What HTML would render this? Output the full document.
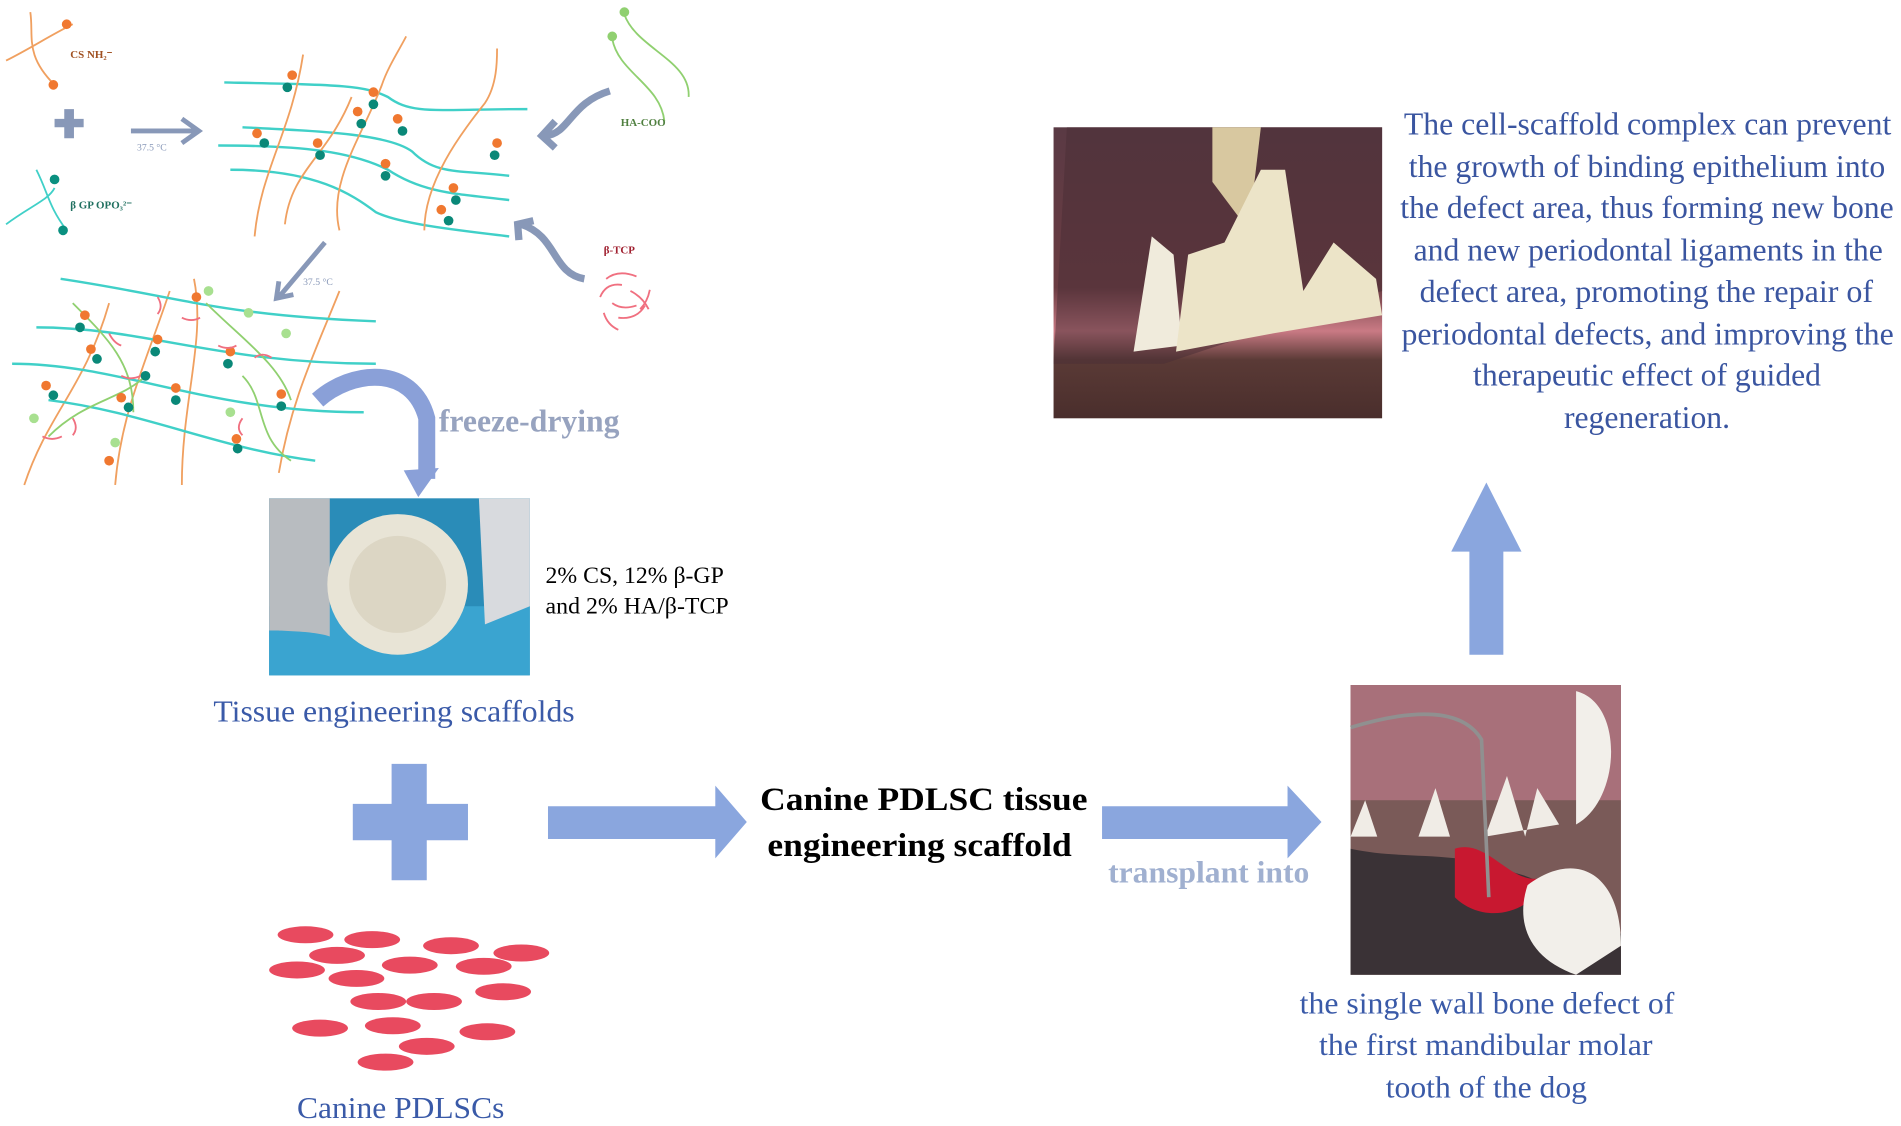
<!DOCTYPE html>
<html><head><meta charset="utf-8"><style>
html,body{margin:0;padding:0;background:#fff;width:1901px;height:1126px;overflow:hidden}
svg{display:block}
text{font-family:"Liberation Serif",serif}
</style></head><body>
<svg width="1901" height="1126" viewBox="0 0 1568 928.7" preserveAspectRatio="none">
<defs>
<linearGradient id="gum" x1="0" y1="0" x2="0" y2="1">
<stop offset="0" stop-color="#5a3a44"/><stop offset="0.55" stop-color="#6a3c42"/><stop offset="0.7" stop-color="#c97a84"/><stop offset="0.8" stop-color="#5a3a36"/><stop offset="1" stop-color="#4a2e2c"/></linearGradient>
</defs>
<!-- top-left schematic -->
<g fill="none" stroke-width="1.5">
<path d="M5,50 C25,40 40,30 60,20 M25,10 C28,30 20,45 45,70" stroke="#f0a060"/>
<path d="M5,185 C25,170 40,165 45,155 M30,140 C40,160 40,170 55,190" stroke="#40d0c8"/>
<path d="M515,12 C525,40 570,50 568,80 M505,32 C510,60 545,70 548,100" stroke="#90d070"/>
<path d="M185,68 C280,70 300,70 320,80 C340,95 360,90 435,90" stroke="#40d0c8" stroke-width="2"/>
<path d="M200,105 C260,108 320,110 340,125 C360,145 380,140 420,145" stroke="#40d0c8" stroke-width="2"/>
<path d="M180,120 C250,120 290,125 320,140 C350,160 380,160 420,165" stroke="#40d0c8" stroke-width="2"/>
<path d="M190,140 C260,140 290,160 310,175 C330,185 380,190 420,195" stroke="#40d0c8" stroke-width="2"/>
<path d="M210,195 C215,140 240,110 250,45" stroke="#f0a060"/>
<path d="M235,185 C240,140 270,130 290,80" stroke="#f0a060"/>
<path d="M280,190 C270,150 300,110 315,70 C320,55 330,40 335,30" stroke="#f0a060"/>
<path d="M350,190 C350,150 380,110 400,85 C410,70 410,50 410,40" stroke="#f0a060"/>
<path d="M20,400 C40,340 70,320 90,250" stroke="#f0a060"/>
<path d="M95,400 C100,340 120,300 140,240" stroke="#f0a060"/>
<path d="M150,400 C150,330 170,280 160,230" stroke="#f0a060"/>
<path d="M230,390 C240,330 260,290 280,240" stroke="#f0a060"/>
<path d="M50,230 C150,245 180,260 310,265" stroke="#40d0c8" stroke-width="2"/>
<path d="M30,270 C120,270 180,300 310,300" stroke="#40d0c8" stroke-width="2"/>
<path d="M10,300 C100,300 170,340 300,340" stroke="#40d0c8" stroke-width="2"/>
<path d="M40,330 C120,340 180,370 260,380" stroke="#40d0c8" stroke-width="2"/>
<path d="M60,250 C90,280 110,300 110,340 M170,250 C200,280 230,300 240,330 M40,360 C70,330 100,330 120,310 M200,310 C220,330 210,360 240,380" stroke="#90d070"/>
</g>
<g>
<circle cx="44" cy="70" r="4" fill="#f07830"/><circle cx="55" cy="20" r="4" fill="#f07830"/>
<circle cx="45" cy="148" r="4" fill="#0a9080"/><circle cx="52" cy="190" r="4" fill="#0a9080"/>
<circle cx="515" cy="10" r="4" fill="#90d070"/><circle cx="505" cy="30" r="4" fill="#90d070"/>
<g fill="#f07830"><circle cx="241" cy="62" r="4"/><circle cx="308" cy="76" r="4"/><circle cx="295" cy="92" r="4"/><circle cx="212" cy="110" r="4"/><circle cx="262" cy="118" r="4"/><circle cx="318" cy="135" r="4"/><circle cx="374" cy="155" r="4"/><circle cx="410" cy="118" r="4"/><circle cx="364" cy="173" r="4"/><circle cx="328" cy="98" r="4"/>
<circle cx="70" cy="260" r="4"/><circle cx="75" cy="288" r="4"/><circle cx="130" cy="280" r="4"/><circle cx="38" cy="318" r="4"/><circle cx="100" cy="328" r="4"/><circle cx="145" cy="320" r="4"/><circle cx="190" cy="290" r="4"/><circle cx="232" cy="325" r="4"/><circle cx="195" cy="362" r="4"/><circle cx="90" cy="380" r="4"/><circle cx="162" cy="245" r="4"/></g>
<g fill="#0a8878"><circle cx="237" cy="72" r="4"/><circle cx="308" cy="86" r="4"/><circle cx="298" cy="102" r="4"/><circle cx="218" cy="118" r="4"/><circle cx="264" cy="128" r="4"/><circle cx="318" cy="145" r="4"/><circle cx="376" cy="165" r="4"/><circle cx="408" cy="128" r="4"/><circle cx="370" cy="182" r="4"/><circle cx="332" cy="108" r="4"/>
<circle cx="66" cy="270" r="4"/><circle cx="80" cy="296" r="4"/><circle cx="128" cy="290" r="4"/><circle cx="44" cy="326" r="4"/><circle cx="106" cy="336" r="4"/><circle cx="145" cy="330" r="4"/><circle cx="188" cy="300" r="4"/><circle cx="232" cy="335" r="4"/><circle cx="196" cy="370" r="4"/><circle cx="120" cy="310" r="4"/></g>
<g fill="#a8e090"><circle cx="172" cy="240" r="4"/><circle cx="236" cy="275" r="4"/><circle cx="205" cy="258" r="4"/><circle cx="28" cy="345" r="4"/><circle cx="190" cy="340" r="4"/><circle cx="95" cy="365" r="4"/></g>
<g fill="none" stroke="#f07080" stroke-width="1.5"><path d="M130,245 q5,8 0,14 M150,262 q8,4 15,0 M90,275 q4,8 10,10 M210,295 q6,-5 14,0 M100,310 q8,4 16,0 M60,345 q5,8 0,14 M200,345 q-6,8 0,14 M35,360 q8,4 16,0 M180,285 q8,4 15,0"/></g>
</g>
<path d="M45,98 h24 v7 h-24z M53,90 h8 v24 h-8z" fill="#8898b8"/>
<path d="M108,108 H162 M150,98 L164,108 L150,118" stroke="#8898b8" stroke-width="4" fill="none"/>
<path d="M268,200 L230,245 M230,232 L228,246 L242,243" stroke="#8898b8" stroke-width="4" fill="none"/>
<path d="M503,75 C470,85 470,110 450,112 M458,100 L447,112 L458,122" stroke="#8898b8" stroke-width="6" fill="none"/>
<path d="M482,230 C455,225 460,195 430,185 M428,198 L427,185 L440,182" stroke="#8898b8" stroke-width="6" fill="none"/>
<g fill="none" stroke="#f07080" stroke-width="1.5"><path d="M500,230 q10,-8 25,-2 M495,245 q5,-12 18,-10 M510,262 q15,2 22,-10 M520,240 q10,5 15,15 M505,250 q8,6 20,2 M498,258 q3,10 12,14 M528,255 q6,-6 8,-16"/></g>
<g font-size="9" font-weight="bold">
<text x="58" y="48" fill="#a05020">CS NH₂⁻</text>
<text x="58" y="172" fill="#207060">β GP OPO₃²⁻</text>
<text x="512" y="104" fill="#508040">HA-COO</text>
<text x="498" y="209" fill="#a02030">β-TCP</text>
<text x="113" y="124" fill="#8898b8" font-weight="normal" font-size="8">37.5 °C</text>
<text x="250" y="235" fill="#8898b8" font-weight="normal" font-size="8">37.5 °C</text>
</g>
<!-- freeze-drying arrow -->
<path d="M262,330 C290,305 340,300 352,345 L352,395" stroke="#8aa0d8" stroke-width="14" fill="none"/>
<path d="M333,388 L345,410 L362,386z" fill="#8aa0d8"/>
<text x="362" y="356" font-size="26" font-weight="bold" fill="#97a3bf" textLength="149" lengthAdjust="spacingAndGlyphs">freeze-drying</text>
<!-- scaffold photo -->
<rect x="222" y="411" width="215" height="146" fill="#2a8cb8"/>
<rect x="222" y="500" width="215" height="57" fill="#3aa4d0"/>
<path d="M222,411 H272 V525 C260,520 222,520 222,520z" fill="#b8bcc0"/>
<path d="M395,411 H437 V500 L400,515z" fill="#d8dade"/>
<circle cx="328" cy="482" r="58" fill="#e8e4d6"/>
<circle cx="328" cy="482" r="40" fill="#dcd6c4"/>
<text x="450" y="481" font-size="19" textLength="147" lengthAdjust="spacingAndGlyphs">2% CS, 12% β-GP</text>
<text x="450" y="506" font-size="19" textLength="151" lengthAdjust="spacingAndGlyphs">and 2% HA/β-TCP</text>
<text x="176" y="595" font-size="25" fill="#3a5aa8" textLength="298" lengthAdjust="spacingAndGlyphs">Tissue engineering scaffolds</text>
<!-- plus -->
<path d="M323,630 h29 v33 h34 v30 h-34 v33 h-29 v-33 h-32 v-30 h32z" fill="#8aa6de"/>
<g fill="#e84a5f">
<ellipse cx="252" cy="771" rx="23" ry="7"/><ellipse cx="307" cy="775" rx="23" ry="7"/><ellipse cx="372" cy="780" rx="23" ry="7"/><ellipse cx="430" cy="786" rx="23" ry="7"/>
<ellipse cx="278" cy="788" rx="23" ry="7"/><ellipse cx="338" cy="796" rx="23" ry="7"/><ellipse cx="399" cy="797" rx="23" ry="7"/><ellipse cx="245" cy="800" rx="23" ry="7"/>
<ellipse cx="294" cy="807" rx="23" ry="7"/><ellipse cx="312" cy="826" rx="23" ry="7"/><ellipse cx="358" cy="826" rx="23" ry="7"/><ellipse cx="415" cy="818" rx="23" ry="7"/>
<ellipse cx="264" cy="848" rx="23" ry="7"/><ellipse cx="324" cy="846" rx="23" ry="7"/><ellipse cx="402" cy="851" rx="23" ry="7"/><ellipse cx="352" cy="863" rx="23" ry="7"/><ellipse cx="318" cy="876" rx="23" ry="7"/>
</g>
<text x="245" y="922" font-size="25" fill="#3a5aa8" textLength="171" lengthAdjust="spacingAndGlyphs">Canine PDLSCs</text>
<!-- arrows -->
<path d="M452,665 H590 V648 L616,678 L590,708 V692 H452z" fill="#8aa6de"/>
<path d="M909,665 H1062 V648 L1090,678 L1062,708 V692 H909z" fill="#8aa6de"/>
<text x="627" y="668" font-size="27" font-weight="bold" textLength="270" lengthAdjust="spacingAndGlyphs">Canine PDLSC tissue</text>
<text x="633" y="706" font-size="27" font-weight="bold" textLength="251" lengthAdjust="spacingAndGlyphs">engineering scaffold</text>
<text x="914" y="728" font-size="25" font-weight="bold" fill="#a0b0d0" textLength="166" lengthAdjust="spacingAndGlyphs">transplant into</text>
<!-- photo 2 -->
<rect x="1114" y="565" width="223" height="239" fill="#7a5a58"/>
<rect x="1114" y="565" width="223" height="95" fill="#a8707a"/>
<path d="M1114,700 C1160,710 1200,700 1250,720 C1290,730 1300,760 1337,770 V804 H1114z" fill="#3a3236"/>
<path d="M1200,700 C1230,690 1250,740 1280,720 C1260,760 1220,760 1200,740z" fill="#c81830"/>
<path d="M1114,690 l12,-30 l10,30z M1170,690 l14,-40 l12,40z M1225,690 l18,-50 l15,50 l10,-40 l18,30z" fill="#f0ece6"/>
<path d="M1300,570 C1340,580 1337,660 1300,680z M1260,730 C1300,700 1337,720 1337,780 L1300,804 C1260,790 1250,760 1260,730z" fill="#f2efea"/>
<path d="M1114,600 C1180,580 1210,590 1222,610 L1228,740" stroke="#909090" stroke-width="3" fill="none"/>
<g font-size="25" fill="#3a5aa8">
<text x="1072" y="836" textLength="309" lengthAdjust="spacingAndGlyphs">the single wall bone defect of</text>
<text x="1088" y="870" textLength="275" lengthAdjust="spacingAndGlyphs">the first mandibular molar</text>
<text x="1143" y="905" textLength="166" lengthAdjust="spacingAndGlyphs">tooth of the dog</text>
</g>
<!-- up arrow -->
<path d="M1212,540 V455 H1197 L1226,398 L1255,455 H1240 V540z" fill="#8aa6de"/>
<!-- photo 1 -->
<rect x="869" y="105" width="271" height="240" fill="url(#gum)"/>
<path d="M880,105 H1140 V240 L1080,260 L960,300 L869,300z" fill="#4a2e36" opacity="0.5"/>
<path d="M1000,105 L1040,105 L1030,190 L1000,150z" fill="#d8c8a0"/>
<path d="M935,290 L950,195 L968,210 L975,285z" fill="#f0ebdc"/>
<path d="M970,290 L980,210 L1010,200 L1040,140 L1060,140 L1075,240 L1100,200 L1135,230 L1140,260 L1050,275z" fill="#ece4c8"/>
<g font-size="26" fill="#3a55a0">
<text x="1158" y="111" textLength="402" lengthAdjust="spacingAndGlyphs">The cell-scaffold complex can prevent</text>
<text x="1162" y="146" textLength="393" lengthAdjust="spacingAndGlyphs">the growth of binding epithelium into</text>
<text x="1155" y="180" textLength="407" lengthAdjust="spacingAndGlyphs">the defect area, thus forming new bone</text>
<text x="1166" y="215" textLength="387" lengthAdjust="spacingAndGlyphs">and new periodontal ligaments in the</text>
<text x="1171" y="249" textLength="374" lengthAdjust="spacingAndGlyphs">defect area, promoting the repair of</text>
<text x="1156" y="284" textLength="406" lengthAdjust="spacingAndGlyphs">periodontal defects, and improving the</text>
<text x="1215" y="318" textLength="287" lengthAdjust="spacingAndGlyphs">therapeutic effect of guided</text>
<text x="1290" y="353" textLength="137" lengthAdjust="spacingAndGlyphs">regeneration.</text>
</g>
</svg>
</body></html>
